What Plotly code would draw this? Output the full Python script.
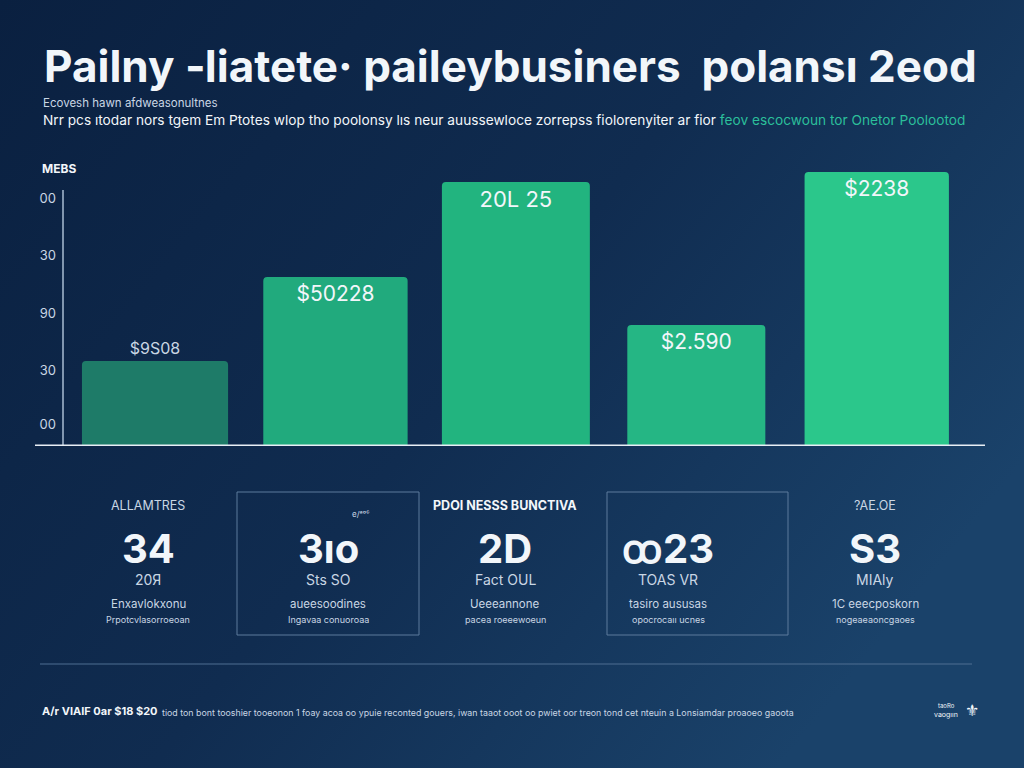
import plotly.graph_objects as go

C_WHITE = "#F2F6FA"
C_SOFT = "#C9D6E4"
C_TEAL = "#2BBF9A"
C_LINE = "#4E6E92"
FONT = "Inter"

# --- chart data ---
categories = ["A", "B", "C", "D", "E"]
values = [85, 169, 264, 121, 274]
bar_labels = ["$9S08", "$50228", "20L 25", "$2.590", "$2238"]
bar_colors = ["#1E7B68", "#21AA7D", "#22B47F", "#25B684", "#2BC78B"]
bar_widths = [0.81, 0.80, 0.82, 0.765, 0.80]
tick_vals = [22, 76, 133, 191, 248]
tick_text = ["00", "30", "90", "30", "00"]

kpi_heads = ["ALLAMTRES", "", "PDOI NESSS BUNCTIVA", "", "?AE.OE"]
kpi_nums = ["34", "3ıo", "2D", "ꝏ23", "S3"]
kpi_units = ["20Я", "Sts SO", "Fact OUL", "TOAS VR", "MIAly"]
kpi_desc = ["Enxavlokxonu", "aueesoodines", "Ueeeannone", "tasiro aususas", "1C eeecposkorn"]
kpi_notes = ["Prpotcvlasorroeoan", "Ingavaa conuoroaa", "pacea roeeewoeun", "opocrocaıı ucnes", "nogeaeaoncgaoes"]
kpi_x = [148, 328, 505, 668, 875]

# page geometry in pixels
W, H = 1024, 768
L, R, T, B = 63, 39, 166, 322
PW, PH = W - L - R, H - T - B


def px(x, y):
    return (x - L) / PW, (H - B - y) / PH


fig = go.Figure(go.Bar(
    x=categories, y=values, width=bar_widths,
    marker=dict(color=bar_colors, line=dict(width=0)),
    text=bar_labels,
    textposition=["outside", "inside", "inside", "inside", "inside"],
    insidetextanchor="end",
    textfont=dict(family=FONT, color=[C_SOFT, C_WHITE, C_WHITE, C_WHITE, C_WHITE],
                  size=[16, 21, 22, 21, 21]),
    cliponaxis=False, hoverinfo="skip"))

grad = ("data:image/svg+xml;utf8,<svg xmlns='http://www.w3.org/2000/svg' width='1024' height='768'>"
        "<defs><linearGradient id='g' x1='0' y1='0' x2='1' y2='0.6'>"
        "<stop offset='0' stop-color='%230A2040'/><stop offset='0.55' stop-color='%23102C50'/>"
        "<stop offset='1' stop-color='%231A426A'/></linearGradient></defs>"
        "<rect width='1024' height='768' fill='url(%23g)'/></svg>")

x0, y0 = px(0, 0)
fig.add_layout_image(source=grad, xref="paper", yref="paper", x=x0, y=y0,
                     sizex=W / PW, sizey=H / PH, sizing="stretch", layer="below",
                     xanchor="left", yanchor="top")

fig.update_layout(
    width=W, height=H, margin=dict(l=L, r=R, t=T, b=B),
    paper_bgcolor="#0F2B4F", plot_bgcolor="rgba(0,0,0,0)",
    font=dict(family=FONT, color=C_WHITE), showlegend=False,
    barcornerradius=4,
    xaxis=dict(range=[-0.51, 4.6], showticklabels=False, showgrid=False,
               zeroline=False, showline=False, fixedrange=True),
    yaxis=dict(range=[0, PH], tickvals=tick_vals, ticktext=tick_text, showgrid=False,
               zeroline=False, showline=False, ticks="", ticklabelstandoff=6,
               tickfont=dict(size=13, color=C_SOFT, family=FONT), fixedrange=True),
)

# axis lines
ax0, _ = px(35, 0)
ax1, _ = px(985, 0)
fig.add_shape(type="line", xref="paper", yref="y", x0=0, x1=0, y0=0, y1=256,
              line=dict(color="#A9BCD2", width=1.5))
fig.add_shape(type="line", xref="paper", yref="y", x0=ax0, x1=ax1, y0=0, y1=0,
              line=dict(color="#E8EEF5", width=3))

ann = []


def text(x, y, s, size, color=C_WHITE, weight="normal", anchor="center"):
    xp, yp = px(x, y)
    ann.append(dict(x=xp, y=yp, xref="paper", yref="paper", text=s, showarrow=False,
                    xanchor=anchor, yanchor="middle",
                    font=dict(size=size, color=color, family=FONT, weight=weight)))


# titles
text(42, 66, "Pailny ‐liatete· paileybusiners&nbsp;&nbsp;polansı 2eod", 44, weight="bold", anchor="left")
text(41, 103, "Ecovesh hawn afdweasonultnes", 11.5, color=C_SOFT, anchor="left")
text(41, 120, "Nrr pcs ıtodar nors tgem Em Ptotes wlop tho poolonsy lıs neur auussewloce "
     "zorrepss fiolorenyiter ar fior <span style='color:%s'>feov escocwoun tor Onetor Poolootod</span>" % C_TEAL,
     13.7, color=C_WHITE, anchor="left")
text(40, 168, "MEBS", 12, color=C_WHITE, weight="bold", anchor="left")

# KPI blocks
for i, cx in enumerate(kpi_x):
    if kpi_heads[i]:
        text(cx, 505, kpi_heads[i], 12.5, color=C_SOFT if i != 2 else C_WHITE,
             weight="bold" if i == 2 else "normal")
    text(cx, 548, kpi_nums[i], 40, weight="bold")
    text(cx, 579, kpi_units[i], 14, color=C_SOFT)
    text(cx, 604, kpi_desc[i], 11.5, color=C_SOFT)
    text(cx, 619, kpi_notes[i], 9, color=C_SOFT)
text(360, 514, "e/ᵃᵒᶜ", 8, color=C_SOFT)

for bx0, bx1 in [(237, 419), (607, 788)]:
    a0, b0 = px(bx0, 492)
    a1, b1 = px(bx1, 635)
    fig.add_shape(type="rect", xref="paper", yref="paper", x0=a0, x1=a1, y0=b1, y1=b0,
                  line=dict(color="#5C7A9C", width=1))

l0, ly = px(40, 664)
l1, _ = px(972, 664)
fig.add_shape(type="line", xref="paper", yref="paper", x0=l0, x1=l1, y0=ly, y1=ly,
              line=dict(color=C_LINE, width=1))

# footer
text(40, 711, "A/r VIAIF 0ar $18 $20", 11, weight="bold", anchor="left")
text(160, 712, "tiod ton bont tooshier tooeonon 1 foay acoa oo ypuie reconted gouers, iwan taaot "
     "ooot oo pwiet oor treon tond cet nteuin a Lonsiamdar proaoeo gaoota", 8.85, color=C_SOFT, anchor="left")
text(946, 705, "taoRo", 6, anchor="center")
text(946, 714, "vaogıın", 7, anchor="center")
text(972, 710, "⚜", 16, anchor="center")

fig.update_layout(annotations=ann)
fig.write_html("out.html", config={"displayModeBar": False},
               post_script="document.body.style.margin='0px';")
